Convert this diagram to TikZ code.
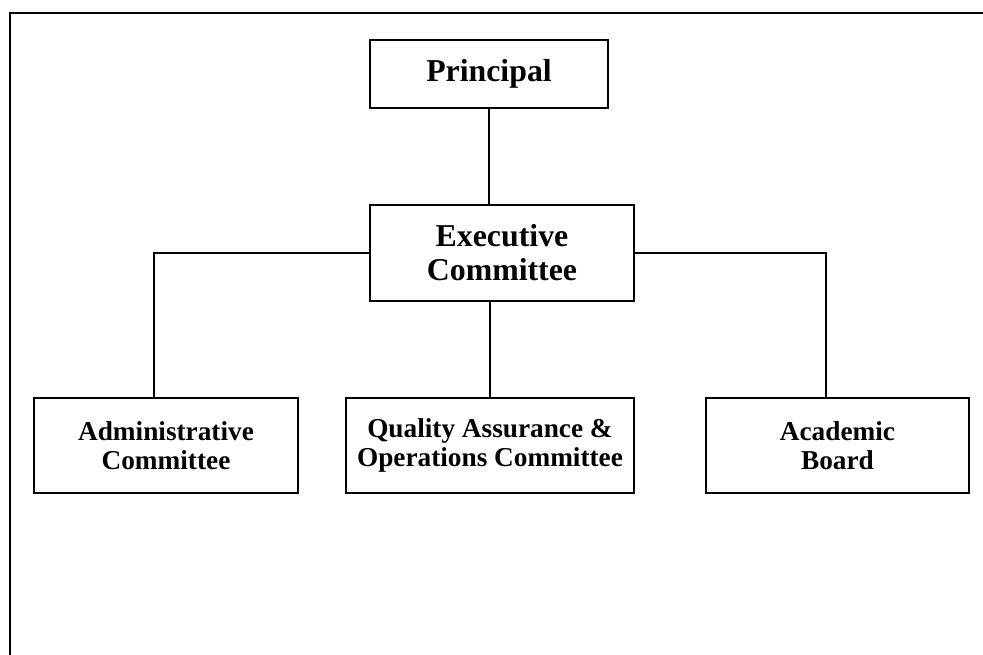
\documentclass[tikz,border=0pt]{standalone}
\usepackage{fontspec}
\setmainfont{Liberation Serif}
\usepackage{tikz}
\usetikzlibrary{positioning}

\begin{document}
\begin{tikzpicture}[
x = 0.44pt, y = -0.44pt,
box/.style = {draw, line width = 0.7pt, align = center, inner sep = 0pt,
  minimum height = 41.8pt, font = \bfseries\fontsize{12}{13}\selectfont},
  topbox/.style = {box, font = \bfseries\fontsize{14}{15}\selectfont}
]
\useasboundingbox (0,0) rectangle (983,655);
% outer frame, cut by the page edge
\draw[line width = 1.2pt] (10,655) |- (983,13);

\node[topbox, minimum width = 104.7pt, minimum height = 29.9pt] (principal) at (489,74) {Principal};
\node[topbox, minimum width = 116.2pt, minimum height = 42.2pt] (executive) at (502,253) {Executive\\Committee};
\node[box, minimum width = 116.2pt] (admin) at (166,445.5) {Administrative\\Committee};
\node[box, minimum width = 126.7pt] (quality) at (490,445.5) {Quality Assurance \&\\Operations Committee};
\node[box, minimum width = 115.7pt] (academic) at (837.5,445.5) {Academic\\Board};

\draw[line width = 0.7pt] (principal) -- (principal |- executive.north);
\draw[line width = 0.7pt] (executive.west) -| ([xshift = -5.3pt]admin.north);
\draw[line width = 0.7pt] (executive.east) -| ([xshift = -5.1pt]academic.north);
\draw[line width = 0.7pt] (quality |- executive.south) -- (quality);
\end{tikzpicture}
\end{document}
